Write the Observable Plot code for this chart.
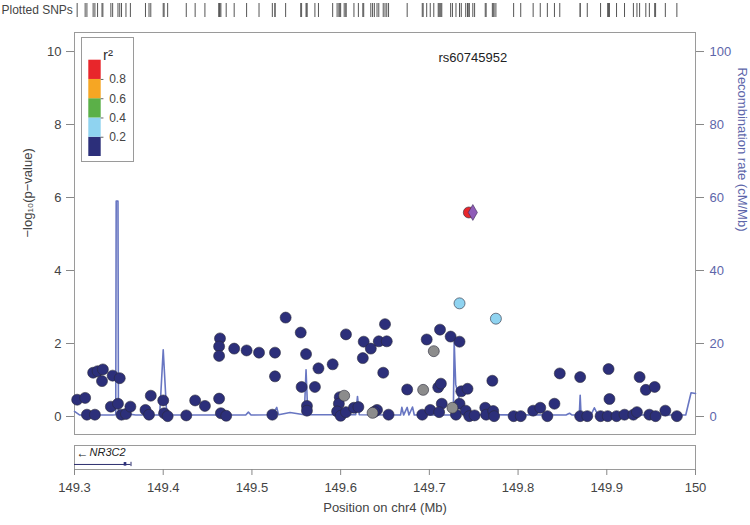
<!DOCTYPE html>
<html><head><meta charset="utf-8">
<script src="https://cdn.jsdelivr.net/npm/d3@7"></script>
<script src="https://cdn.jsdelivr.net/npm/@observablehq/plot@0.6"></script>
<style>
body{margin:0;background:#fff;}
#wrap{position:relative;width:750px;height:525px;overflow:hidden;font-family:"Liberation Sans",Arial,sans-serif;}
#wrap svg{position:absolute;}
</style></head><body><div id="wrap"></div>
<script>
// ---- data ----
const xDomain = [149.3, 150];
const xTicks = [149.3, 149.4, 149.5, 149.6, 149.7, 149.8, 149.9, 150];
const yTicks = [0, 2, 4, 6, 8, 10];

const snpPos = [149.303,149.312,149.314,149.323,149.321,149.326,149.332,149.331,149.343,149.351,
149.341,149.349,149.353,149.358,149.363,149.380,149.384,149.386,149.400,149.401,
149.405,149.426,149.436,149.447,149.463,149.464,149.463,149.463,149.465,149.471,
149.480,149.494,149.508,149.526,149.526,149.523,149.538,149.555,149.561,149.556,
149.571,149.562,149.562,149.575,149.591,149.606,149.599,149.598,149.596,149.600,
149.606,149.615,149.620,149.626,149.634,149.625,149.643,149.652,149.650,149.648,
149.641,149.638,149.654,149.675,149.697,149.712,149.724,149.734,149.710,149.713,
149.714,149.692,149.701,149.711,149.730,149.734,149.736,149.743,149.741,149.745,
149.751,149.763,149.764,149.772,149.773,149.771,149.795,149.803,149.817,149.825,
149.833,149.841,149.847,149.870,149.870,149.878,149.902,149.903,149.893,149.901,
149.911,149.920,149.930,149.934,149.937,149.944,149.954,149.948,149.955,149.966,
149.979,
149.604,149.636,149.693,149.705,149.726,
149.734,149.775,
149.7445];
const snpLogP = [0.46,0.51,0.05,0.05,1.20,1.24,1.29,0.97,1.12,1.05,
0.27,0.35,0.05,0.07,0.27,0.18,0.05,0.57,0.44,0.09,
0.01,0.03,0.44,0.29,0.49,2.14,1.92,1.66,0.09,0.02,
1.86,1.81,1.75,1.75,1.10,0.05,2.71,2.30,1.71,0.81,
0.81,0.29,0.16,1.32,1.43,2.25,0.53,0.35,0.14,0.02,
0.12,0.24,0.26,2.05,1.86,1.60,2.06,2.06,2.53,1.20,
0.18,0.13,0.05,0.74,2.11,2.38,2.19,2.05,0.80,0.90,
0.35,0.05,0.18,0.12,0.05,0.35,0.69,0.76,0.16,0.01,
0.03,0.24,0.05,0.15,0.01,0.98,0.01,0.01,0.16,0.24,
0.01,0.35,1.18,1.08,0.01,0.01,1.30,0.48,0.01,0.01,
0.01,0.05,0.05,0.12,1.08,0.73,0.81,0.05,0.01,0.16,
0.01,
0.57,0.10,0.73,1.79,0.24,
3.10,2.68,
5.59];
const snpR2 = [0.1,0.1,0.1,0.1,0.1,0.1,0.1,0.1,0.1,0.1,
0.1,0.1,0.1,0.1,0.1,0.1,0.1,0.1,0.1,0.1,
0.1,0.1,0.1,0.1,0.1,0.1,0.1,0.1,0.1,0.1,
0.1,0.1,0.1,0.1,0.1,0.1,0.1,0.1,0.1,0.1,
0.1,0.1,0.1,0.1,0.1,0.1,0.1,0.1,0.1,0.1,
0.1,0.1,0.1,0.1,0.1,0.1,0.1,0.1,0.1,0.1,
0.1,0.1,0.1,0.1,0.1,0.1,0.1,0.1,0.1,0.1,
0.1,0.1,0.1,0.1,0.1,0.1,0.1,0.1,0.1,0.1,
0.1,0.1,0.1,0.1,0.1,0.1,0.1,0.1,0.1,0.1,
0.1,0.1,0.1,0.1,0.1,0.1,0.1,0.1,0.1,0.1,
0.1,0.1,0.1,0.1,0.1,0.1,0.1,0.1,0.1,0.1,
0.1,
null,null,null,null,null,
0.3,0.3,
0.9];

const indexName = "rs60745952";
const indexPos = 149.749;
const indexLogP = 5.59;
const indexLabelY = 9.82;

const recombPos = [149.300,149.306,149.343,149.3465,149.347,149.349,149.3495,149.357,149.369,149.396,
149.400,149.404,149.493,149.496,149.499,149.523,149.528,149.530,149.543,149.559,
149.561,149.563,149.617,149.619,149.621,149.6675,149.669,149.671,149.675,149.677,
149.681,149.683,149.727,149.728,149.7297,149.734,149.740,149.746,149.854,149.858,
149.861,149.869,149.870,149.871,149.882,149.886,149.890,149.989,149.995,150.000];
const recombRate = [1.4,0.4,0.4,0.5,59,59,0.6,0.8,0.4,0.4,
18.3,0.4,0.4,1.2,0.4,0.5,2.5,0.5,1.1,0.5,
12.8,0.5,0.5,5.5,0.5,0.4,2.5,0.4,2.5,0.4,
2.6,0.4,0.4,20.4,8.8,4.4,1.6,0.5,0.4,0.9,
0.4,0.4,5.8,0.4,0.4,2.4,0.4,0.4,6.5,6.3];

const geneName = "NR3C2";
const geneStart = 149.3;
const geneEnd = 149.3637;
const exonStart = 149.356;
const exonEnd = 149.359;

const legendBreaks = [0, 0.2, 0.4, 0.6, 0.8, 1];
const legendColors = ["#2c2f7a", "#8fd3f0", "#5bb048", "#f6a623", "#e8262b"];
const legendTicks = [0.2, 0.4, 0.6, 0.8];
const naColor = "#8c8c8c";
const indexColor = "#8f5cb8";
const recombColor = "#6876c2";
const rightColor = "#5d66aa";

// ---- helpers ----
function r2Color(r) {
  if (r == null) return naColor;
  for (let i = legendBreaks.length - 2; i >= 0; i--) if (r >= legendBreaks[i]) return legendColors[i];
  return legendColors[0];
}
function rank(r) { return r == null ? 1 : (r < 0.2 ? 0 : 2 + r); }

const snps = snpPos.map((x, i) => ({x, y: snpLogP[i], r2: snpR2[i]}))
  .sort((a, b) => rank(a.r2) - rank(b.r2));
const recomb = recombPos.map((x, i) => ({x, rate: recombRate[i]}));
const legendBins = legendColors.map((c, i) => ({lo: legendBreaks[i], hi: legendBreaks[i + 1], c}));

const font = '"Liberation Sans", Arial, sans-serif';
const wrap = document.getElementById("wrap");
function place(svg, left, top) { svg.style.left = left + "px"; svg.style.top = top + "px"; wrap.appendChild(svg); }

// ---- rug of plotted SNPs ----
const rug = Plot.plot({
  width: 750, height: 20, marginLeft: 74, marginRight: 55, marginTop: 3, marginBottom: 3,
  style: {fontFamily: font, fontSize: "12px", background: "transparent", overflow: "visible"},
  x: {domain: xDomain, axis: null}, y: {axis: null},
  marks: [
    Plot.tickX(snpPos.concat([indexPos]), {x: d => d, stroke: "#555", strokeWidth: 1}),
    Plot.text(["Plotted SNPs"], {text: d => d, frameAnchor: "left", dx: -73, textAnchor: "start", fill: "#444", fontSize: 12})
  ]
});
place(rug, 0, 0);

// ---- main panel ----
const main = Plot.plot({
  width: 750, height: 420, marginLeft: 74, marginRight: 55, marginTop: 12, marginBottom: 6,
  style: {fontFamily: font, fontSize: "13px", background: "transparent", overflow: "visible"},
  x: {domain: xDomain, axis: null},
  y: {domain: [-0.493, 10.521]},
  color: {type: "identity"},
  marks: [
    Plot.frame({stroke: "#9a9a9a"}),
    Plot.axisY({anchor: "left", ticks: yTicks, tickFormat: d => String(d), tickSize: 8, tickPadding: 5, label: null, fill: "#444", stroke: "#888", fontSize: 13}),
    Plot.axisY({anchor: "right", ticks: yTicks, tickFormat: d => String(d * 10), tickSize: 8, tickPadding: 6, label: null, fill: rightColor, stroke: "#888", fontSize: 13}),
    Plot.line(recomb, {x: "x", y: d => d.rate / 10, stroke: recombColor, strokeWidth: 1.6}),
    Plot.dot(snps, {x: "x", y: "y", r: 5.5, fill: d => r2Color(d.r2), stroke: "#2a2a3a", strokeWidth: 0.6}),
    Plot.dot([{x: indexPos, y: indexLogP}], {x: "x", y: "y", symbol: "diamond", r: 4.8, fill: indexColor, stroke: "#3a2a55", strokeWidth: 0.6}),
    Plot.text([{x: indexPos, y: indexLabelY, t: indexName}], {x: "x", y: "y", text: "t", fill: "#222", fontSize: 13}),
    Plot.text(["\u2212log\u2081\u2080(p\u2212value)"], {text: d => d, frameAnchor: "left", dx: -46.5, dy: 4, rotate: -90, fill: "#444", fontSize: 13}),
    Plot.text(["Recombination rate (cM/Mb)"], {text: d => d, frameAnchor: "right", dx: 46.7, dy: -2, rotate: 90, fill: rightColor, fontSize: 13})
  ]
});
place(main, 0, 20);

// ---- legend ----
const legend = Plot.plot({
  width: 51, height: 123, marginLeft: 6.3, marginRight: 32.3, marginTop: 21.7, marginBottom: 5,
  style: {fontFamily: font, fontSize: "12px", background: "#fff", overflow: "visible", border: "1px solid #9a9a9a"},
  x: {domain: [0, 1], axis: null},
  y: {domain: [0, 1], axis: null},
  color: {type: "identity"},
  marks: [
    Plot.rect(legendBins, {x1: () => 0, x2: () => 1, y1: "lo", y2: "hi", fill: "c"}),
    Plot.ruleY(legendTicks, {y: d => d, x1: () => 1, x2: () => 1.22, stroke: "#666"}),
    Plot.text(legendTicks, {y: d => d, x: () => 1, dx: 8, text: d => String(d), textAnchor: "start", fill: "#444", fontSize: 12}),
    Plot.text(["r\u00b2"], {text: d => d, frameAnchor: "top", dx: 13, dy: -11, fill: "#333", fontSize: 15})
  ]
});
place(legend, 81, 37);

// ---- gene track + x axis ----
const genes = Plot.plot({
  width: 750, height: 85, marginLeft: 74, marginRight: 55, marginTop: 5, marginBottom: 56,
  style: {fontFamily: font, fontSize: "13px", background: "transparent", overflow: "visible"},
  x: {domain: xDomain},
  y: {domain: [0, 1], axis: null},
  marks: [
    Plot.frame({stroke: "#9a9a9a"}),
    Plot.axisX({anchor: "bottom", ticks: xTicks, tickFormat: d => String(+d.toFixed(1)), tickSize: 6, tickPadding: 7, label: null, fill: "#444", stroke: "#888", fontSize: 13}),
    Plot.ruleY([{s: geneStart, e: geneEnd}], {y: () => 0.21, x1: "s", x2: "e", stroke: "#2c2f6e", strokeWidth: 1}),
    Plot.rect([{s: exonStart, e: exonEnd}], {x1: "s", x2: "e", y1: () => 0.14, y2: () => 0.29, fill: "#2c2f7a"}),
    Plot.ruleX([geneEnd], {x: d => d, y1: () => 0.12, y2: () => 0.30, stroke: "#2c2f6e", strokeWidth: 1}),
    Plot.text(["\u2190"], {text: d => d, x: () => geneStart, y: () => 0.70, dx: 2, textAnchor: "start", fill: "#222", fontSize: 12}),
    Plot.text([geneName], {text: d => d, x: () => geneStart, y: () => 0.70, dx: 15, textAnchor: "start", fill: "#222", fontSize: 11, fontStyle: "italic"}),
    Plot.text(["Position on chr4 (Mb)"], {text: d => d, frameAnchor: "bottom", dy: 42, fill: "#444", fontSize: 13})
  ]
});
place(genes, 0, 440);
</script></body></html>
